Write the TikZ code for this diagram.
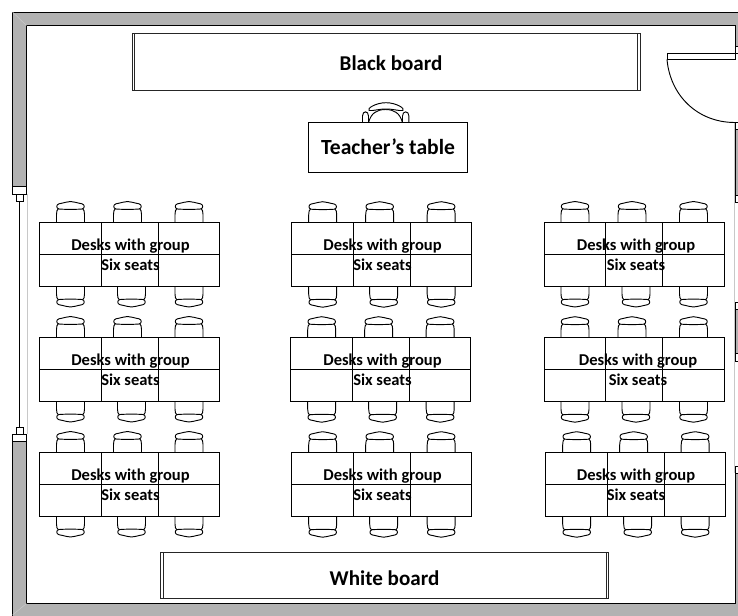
\documentclass[tikz,border=0pt]{standalone}
\usepackage{fontspec}
\setmainfont{Carlito}
\definecolor{wallgray}{HTML}{B2B2B2}
\definecolor{glassgray}{HTML}{C8C8C8}
\tikzset{
  wall/.style={draw=black,fill=wallgray,line width=0.75pt},
  jamb/.style={draw=black,fill=white,line width=0.75pt},
  glass/.style={draw=glassgray,line width=0.75pt},
  board/.style={draw=black!85,line width=0.75pt},
  desk/.style={draw=black,line width=0.75pt},
  seat/.style={draw=black,line width=0.7pt,line join=round},
  desklabel/.style={font=\bfseries\fontsize{12.4}{14}\selectfont,anchor=base,inner sep=0pt},
  boardlabel/.style={font=\bfseries\fontsize{15.8}{18}\selectfont,inner sep=0pt}
}
% one chair, its foot at the table edge
\newcommand{\chairat}[3]{
\begin{scope}[shift={(#1,#2)},yscale=#3]
\draw[seat] (-14,0) -- (-14,-8) .. controls (-14,-11) and (-13.5,-13) .. (-12,-14) -- (12,-14) .. controls (13.5,-13) and (14,-11) .. (14,-8) -- (14,0);
\draw[seat,fill=white] (-11.5,-13.5) .. controls (-14.5,-14) and (-14.5,-18) .. (-11.5,-18.7) .. controls (-6,-19.7) and (-3,-21) .. (0,-21) .. controls (3,-21) and (6,-19.7) .. (11.5,-18.7) .. controls (14.5,-18) and (14.5,-14) .. (11.5,-13.5) .. controls (5,-13) and (-5,-13) .. (-11.5,-13.5) -- cycle;
\end{scope}
}
% six seats round one table: name, left, top, label centre
\newcommand{\deskgroup}[4]{
\foreach \dx in {31,88,149.5} {\chairat{#2+\dx}{#3}{1}}
\foreach \dx in {31,92,149.5} {\chairat{#2+\dx}{#3+63.5}{-1}}
\draw[desk] (#2,#3) rectangle (#2+180,#3+63.5);
\draw[desk] (#2,#3+32) -- (#2+180,#3+32);
\draw[desk] (#2+61.5,#3) -- (#2+61.5,#3+63.5);
\draw[desk] (#2+118.5,#3) -- (#2+118.5,#3+63.5);
\node[desklabel] (#1top) at (#4,#3+28) {Desks with group};
\node[desklabel] (#1low) at (#4,#3+48) {Six seats};
}

\begin{document}
\begin{tikzpicture}[x=0.75pt,y=-0.75pt]
\useasboundingbox (0,0) rectangle (738,615);
% walls
\draw[wall] (745,12) -- (12.5,12) -- (12.5,186.5) -- (26.5,186.5) -- (26.5,25.5) -- (735,25.5) -- (735,46.5) -- (745,46.5);
\draw[wall] (12.5,441) -- (26.5,441) -- (26.5,603.5) -- (735,603.5) -- (735,473) -- (745,473) -- (745,625) -- (12.5,625) -- cycle;
\draw[wall] (745,129) -- (735,129) -- (735,195) -- (745,195);
\draw[wall] (745,309) -- (735,309) -- (735,353) -- (745,353);
\draw[glassgray,line width=0.4pt] (12.5,12) -- (26.5,25.5);
\draw[glassgray,line width=0.4pt] (12.5,615) -- (26.5,603.5);
% left window
\draw[glass] (27,194) -- (27,434);
\draw[black,line width=0.75pt] (19.5,201) -- (19.5,428);
\draw[jamb] (12.5,186.5) rectangle (26.5,194);
\draw[jamb] (16,194) rectangle (23.5,201);
\draw[jamb] (16,427.5) rectangle (23.5,434);
\draw[jamb] (12.5,434) rectangle (26.5,441);
% right side, door
\draw[glass] (734.7,122) -- (734.7,473);
\draw[jamb] (745,46.5) -- (735,46.5) -- (735,53) -- (745,53);
\draw[jamb] (745,122.5) -- (735,122.5) -- (735,129) -- (745,129);
\draw[jamb] (745,195) -- (735,195) -- (735,202) -- (745,202);
\draw[jamb] (745,302.7) -- (735,302.7) -- (735,309) -- (745,309);
\draw[jamb] (745,353) -- (735,353) -- (735,361) -- (745,361);
\draw[jamb] (745,466.7) -- (735,466.7) -- (735,473) -- (745,473);
\draw[jamb] (667,53.3) rectangle (735,59.3);
\draw[seat] (667,59.3) .. controls (670,95) and (697,122.5) .. (735,122.5);
% boards
\draw[board] (132.5,33) rectangle (640,90.3);
\draw[board] (134.8,33) -- (134.8,90.3);
\draw[board] (637.7,33) -- (637.7,90.3);
\node[boardlabel] (blackboard) at (391,63) {Black board};
\draw[board] (160.5,552) rectangle (608.3,598.7);
\draw[board] (163,552) -- (163,598.7);
\draw[board] (606,552) -- (606,598.7);
\node[boardlabel] (whiteboard) at (384.5,578) {White board};
% teacher
\draw[seat] (362.5,122.7) -- (362.5,116) .. controls (362.5,110.5) and (368.5,110.5) .. (368.5,116) -- (368.5,122.7);
\draw[seat] (402.5,122.7) -- (402.5,116) .. controls (402.5,110.5) and (408.9,110.5) .. (408.9,116) -- (408.9,122.7);
\draw[seat] (368.5,122.7) .. controls (371,113) and (377,109.5) .. (385.5,109.5) .. controls (394,109.5) and (400,113) .. (402.5,122.7);
\draw[seat,fill=white] (369,110.5) .. controls (366.5,108.5) and (376,102.7) .. (386,102.7) .. controls (396,102.7) and (405.5,108.5) .. (403,110.5) .. controls (398,111) and (394,109) .. (386,109) .. controls (378,109) and (374,111) .. (369,110.5) -- cycle;
\draw[desk] (308.3,122.7) rectangle (467.3,172);
\node[boardlabel,font=\bfseries\fontsize{16.2}{18}\selectfont] (teachertable) at (388,147) {Teacher’s table};
% desks
\deskgroup{aa}{39.5}{222.5}{130.5}
\deskgroup{ab}{39.5}{337.5}{130.5}
\deskgroup{ac}{39.5}{452.5}{130.5}
\deskgroup{ba}{291.7}{222.7}{382.5}
\deskgroup{bb}{290.7}{337.7}{382.5}
\deskgroup{bc}{291.7}{452.7}{382.5}
\deskgroup{ca}{544}{222.5}{636}
\deskgroup{cb}{544}{337.7}{638}
\deskgroup{cc}{545.7}{452.7}{636}
\end{tikzpicture}
\end{document}
